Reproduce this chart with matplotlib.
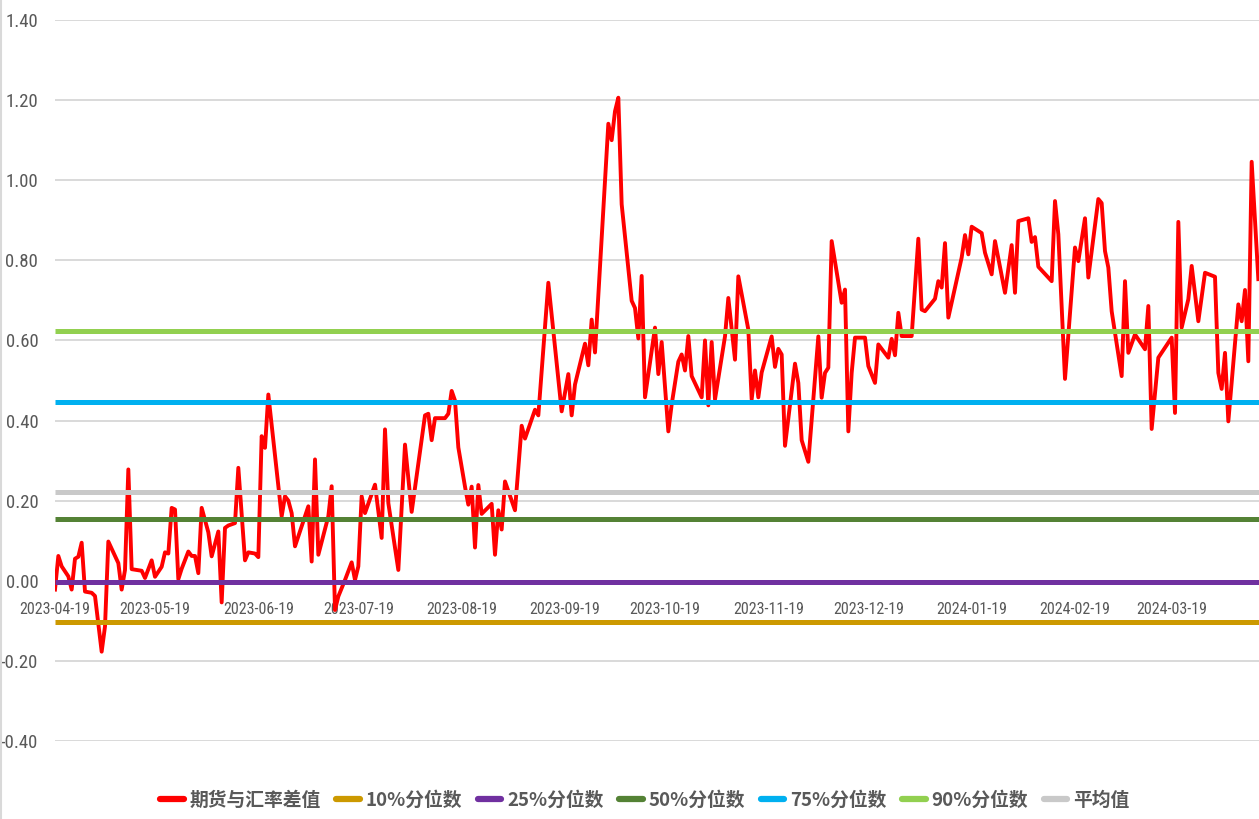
import numpy as np
import pandas as pd
import matplotlib
matplotlib.use("Agg")
import matplotlib.pyplot as plt
import matplotlib.dates as mdates
from matplotlib import font_manager as fm

# --- dados ---
START = pd.Timestamp("2023-04-19")
day_offset = [0, 1, 2, 4, 5, 6, 7, 8, 9, 11, 12, 14, 15, 16, 19, 20, 21, 22, 23, 26,
              27, 29, 30, 32, 33, 34, 35, 36, 37, 38, 40, 41, 42, 43, 44, 46, 47, 49, 50, 51,
              52, 54, 55, 57, 58, 60, 61, 62, 63, 64, 68, 69, 70, 71, 72, 76, 77, 78, 79, 82,
              83, 84, 85, 87, 89, 90, 91, 92, 93, 96, 98, 99, 100, 103, 105, 107, 111, 112, 113, 114,
              117, 118, 119, 120, 121, 123, 124, 125, 126, 127, 128, 131, 132, 133, 134, 135, 138, 140, 141, 144,
              145, 148, 152, 154, 155, 156, 159, 160, 161, 162, 166, 167, 168, 169, 170, 173, 174, 175, 176, 177,
              180, 181, 182, 184, 185, 187, 188, 189, 190, 191, 194, 195, 196, 197, 198, 201, 202, 204, 205, 208,
              209, 210, 211, 212, 215, 216, 217, 218, 219, 222, 223, 224, 226, 229, 230, 231, 232, 233, 236, 237,
              238, 239, 240, 243, 244, 246, 247, 250, 251, 252, 253, 254, 257, 259, 260, 261, 264, 265, 266, 267,
              268, 272, 273, 274, 275, 278, 279, 281, 282, 285, 287, 288, 289, 292, 293, 294, 295, 299, 300, 301,
              303, 306, 307, 309, 310, 313, 314, 315, 316, 317, 320, 321, 322, 324, 327, 328, 329, 331, 335, 336,
              337, 338, 340, 341, 343, 345, 348, 349, 350, 351, 352, 355, 356, 357, 358, 359, 361]
spread = [-0.022, 0.062, 0.036, 0.011, -0.022, 0.055, 0.06, 0.095, -0.027, -0.03, -0.038, -0.177, -0.114, 0.098, 0.044, -0.022, 0.027, 0.278, 0.029, 0.025,
          0.007, 0.051, 0.01, 0.035, 0.071, 0.068, 0.182, 0.178, 0.004, 0.03, 0.073, 0.062, 0.062, 0.019, 0.182, 0.121, 0.061, 0.123, -0.054, 0.132,
          0.138, 0.144, 0.282, 0.051, 0.071, 0.068, 0.059, 0.361, 0.332, 0.465, 0.161, 0.211, 0.20, 0.169, 0.086, 0.186, 0.048, 0.303, 0.065, 0.161,
          0.236, -0.073, -0.039, 0.002, 0.046, 0.002, 0.036, 0.211, 0.169, 0.24, 0.107, 0.378, 0.194, 0.027, 0.34, 0.172, 0.413, 0.417, 0.351, 0.406,
          0.406, 0.417, 0.474, 0.45, 0.333, 0.235, 0.19, 0.235, 0.083, 0.239, 0.167, 0.192, 0.065, 0.176, 0.128, 0.248, 0.176, 0.387, 0.355, 0.427,
          0.413, 0.744, 0.423, 0.516, 0.413, 0.49, 0.592, 0.538, 0.652, 0.57, 1.141, 1.10, 1.172, 1.206, 0.94, 0.699, 0.681, 0.605, 0.761, 0.458,
          0.632, 0.516, 0.596, 0.373, 0.44, 0.547, 0.565, 0.525, 0.611, 0.511, 0.458, 0.60, 0.438, 0.596, 0.453, 0.61, 0.706, 0.552, 0.76, 0.627,
          0.453, 0.525, 0.458, 0.52, 0.61, 0.534, 0.579, 0.565, 0.337, 0.542, 0.494, 0.351, 0.297, 0.61, 0.457, 0.519, 0.532, 0.848, 0.694, 0.727,
          0.373, 0.519, 0.607, 0.607, 0.536, 0.494, 0.59, 0.557, 0.604, 0.563, 0.669, 0.611, 0.611, 0.854, 0.677, 0.673, 0.704, 0.748, 0.732, 0.843,
          0.657, 0.807, 0.863, 0.815, 0.884, 0.868, 0.819, 0.765, 0.848, 0.719, 0.838, 0.719, 0.898, 0.905, 0.846, 0.858, 0.784, 0.748, 0.948, 0.865,
          0.504, 0.832, 0.798, 0.905, 0.757, 0.953, 0.943, 0.823, 0.782, 0.673, 0.511, 0.748, 0.569, 0.615, 0.578, 0.686, 0.379, 0.557, 0.607, 0.419,
          0.896, 0.632, 0.703, 0.786, 0.648, 0.769, 0.759, 0.519, 0.479, 0.569, 0.398, 0.69, 0.648, 0.726, 0.548, 1.046, 0.753]

ref_names = ["10%分位数", "25%分位数", "50%分位数", "75%分位数", "90%分位数", "平均值"]
ref_values = [-0.104, -0.004, 0.153, 0.447, 0.624, 0.221]
ref_colors = ["#CC9900", "#7030A0", "#548235", "#00B0F0", "#92D050", "#C9C9C9"]

dates = START + pd.to_timedelta(day_offset, unit="D")
tick_dates = [START + pd.DateOffset(months=i) for i in range(12)]
END = START + pd.Timedelta(days=361.2)

# --- fonte estreita, se houver ---
installed = {f.name for f in fm.fontManager.ttflist}
narrow = None
for cand in ["Liberation Sans Narrow", "DejaVu Sans Condensed", "Roboto Condensed", "Open Sans Condensed"]:
    if cand in installed:
        narrow = cand
        break
stretch = "normal"
if narrow is None:
    cond = [f for f in fm.fontManager.ttflist if f.name == "DejaVu Sans" and f.stretch == "condensed"]
    if cond:
        narrow, stretch = "DejaVu Sans", "condensed"
if narrow is None:
    narrow, xsize, ysize = "Liberation Sans", 10.5, 11
else:
    xsize, ysize = 11.5, 13.5
plt.rcParams['font.family'] = [narrow, 'DejaVu Sans']
plt.rcParams['font.stretch'] = stretch

fig = plt.figure(figsize=(12.59, 8.19), dpi=100)
ax = fig.add_axes([55 / 1259, 78 / 819, 1204 / 1259, 721 / 819])

ax.plot(dates, spread, color="#FF0000", lw=2.8, zorder=3, label="期货与汇率差值")
for name, val, col in zip(ref_names, ref_values, ref_colors):
    ax.plot([START, END], [val, val], color=col, lw=3.6, zorder=4, label=name,
            solid_capstyle="butt")

ax.set_ylim(-0.4, 1.4)
ax.set_yticks(np.arange(-0.4, 1.41, 0.2))
ax.yaxis.set_major_formatter(plt.FuncFormatter(lambda v, p: f"{v:.2f}"))
ax.set_xlim(START, END)
ax.grid(axis="y", color="#D9D9D9", lw=1.4, zorder=0)
ax.set_axisbelow(True)

ax.set_xticks(tick_dates)
ax.xaxis.set_major_formatter(mdates.DateFormatter("%Y-%m-%d"))
ax.spines["bottom"].set_position(("data", 0))
for s in ["top", "right", "left", "bottom"]:
    ax.spines[s].set_visible(False)
ax.tick_params(axis="x", length=0, pad=15, labelsize=xsize, labelcolor="#595959")
ax.tick_params(axis="y", length=0, pad=12, labelsize=ysize, labelcolor="#595959")

leg = fig.legend(loc="center", bbox_to_anchor=(0.512, 0.023), ncol=7, frameon=False,
                 handlelength=1.25, handletextpad=0.3, columnspacing=0.85,
                 prop={"family": ["Noto Sans CJK SC", "DejaVu Sans"], "size": 13.5, "weight": "bold"})
for t in leg.get_texts():
    t.set_color("#595959")
for h in leg.get_lines():
    h.set_linewidth(4.5)
    h.set_solid_capstyle("round")

fig.add_artist(plt.Line2D([0.001, 0.001], [0, 1], color="#D9D9D9", lw=1.5, transform=fig.transFigure))

fig.savefig("out.png", dpi=100)
